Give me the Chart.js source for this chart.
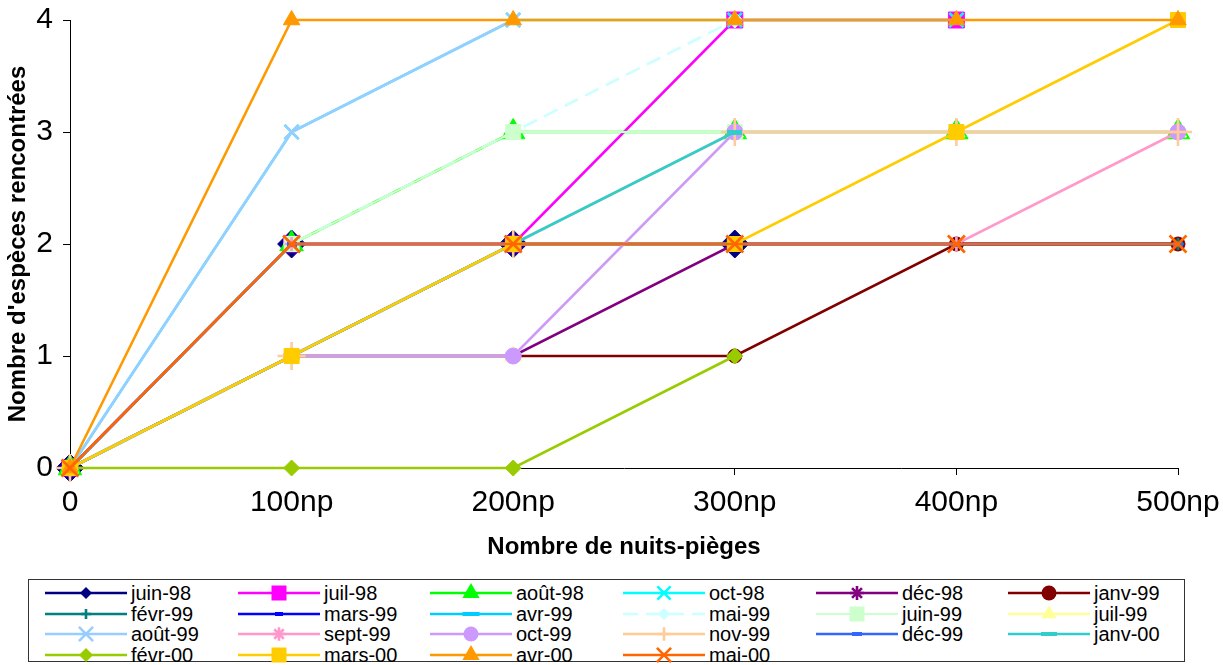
<!DOCTYPE html>
<html>
<head>
<meta charset="utf-8">
<script src="https://cdn.jsdelivr.net/npm/chart.js@4.4.1/dist/chart.umd.min.js"></script>
<style>
  body{margin:0;background:#fff;font-family:"Liberation Sans",Arial,sans-serif;}
  #wrap{position:relative;width:1223px;height:665px;overflow:hidden;}
  #box{position:absolute;left:0;top:0;width:1223px;height:570px;}
  #legend{position:absolute;left:28px;top:579px;width:1155px;height:81px;border:1px solid #333;}
  .it{position:absolute;width:190px;height:20px;}
  .it canvas{position:absolute;left:0;top:0;}
  .it span{position:absolute;left:86px;top:0;font-size:20px;line-height:20px;white-space:nowrap;color:#000;}
</style>
</head>
<body>
<div id="wrap">
  <div id="box"><canvas id="chart"></canvas></div>
  <div id="legend"></div>
</div>
<script>
// categories (x axis) and y ticks
const categories = ['0', '100np', '200np', '300np', '400np', '500np'];
const yTicks = [0, 1, 2, 3, 4];

// number of species found, per sampling month (null = no more sampling)
const juin98  = [0, 2, 2, 2, null, null];
const juil98  = [0, 2, 2, 4, 4, null];
const aout98  = [0, 2, 3, 3, 3, 3];
const oct98   = [0, 3, 4, 4, 4, null];
const dec98   = [0, 1, 1, 2, 2, 2];
const janv99  = [0, 1, 1, 1, 2, 2];
const fevr99  = [0, 1, 2, 2, 2, 2];
const mars99  = [0, 1, 2, 2, 2, 2];
const avr99   = [0, 2, 2, 2, null, null];
const mai99   = [0, 2, 3, 4, null, null];
const juin99  = [0, 2, 3, 3, null, null];
const juil99  = [0, 1, 1, 3, 3, 3];
const aout99  = [0, 3, 4, null, null, null];
const sept99  = [0, 2, 2, 2, 2, 3];
const oct99   = [0, 1, 1, 3, 3, 3];
const nov99   = [0, 1, 2, 3, 3, 3];
const dec99   = [0, 2, 2, 2, 2, 2];
const janv00  = [0, 1, 2, 3, null, null];
const fevr00  = [0, 0, 0, 1, null, null];
const mars00  = [0, 1, 2, 2, 3, 4];
const avr00   = [0, 4, 4, 4, 4, 4];
const mai00   = [0, 2, 2, 2, 2, 2];

const seriesNames = ['juin-98','juil-98','août-98','oct-98','déc-98','janv-99',
  'févr-99','mars-99','avr-99','mai-99','juin-99','juil-99',
  'août-99','sept-99','oct-99','nov-99','déc-99','janv-00',
  'févr-00','mars-00','avr-00','mai-00'];
const seriesValues = [juin98, juil98, aout98, oct98, dec98, janv99,
  fevr99, mars99, avr99, mai99, juin99, juil99,
  aout99, sept99, oct99, nov99, dec99, janv00,
  fevr00, mars00, avr00, mai00];

// styles
const seriesColors = ['#000080','#FF00FF','#00FF00','#00FFFF','#800080','#800000',
  '#008080','#0000FF','#00CCFF','#CCFFFF','#CCFFCC','#FFFF99',
  '#99CCFF','#FF99CC','#CC99FF','#FFCC99','#3366FF','#33CCCC',
  '#99CC00','#FFCC00','#FF9900','#FF6600'];
const markers = ['rectRot','rect','triangle','crossRot','star','circle',
  'cross','dash','dash','rectRot','rect','triangle',
  'crossRot','star','circle','cross','dash','dash',
  'rectRot','rect','triangle','crossRot'];
// chart marker radius (dash: [w,h])
const markerSizes = [14, 11.3, 13.5, 10, 7, 7,
  6, [7,4], [12,5], 8, 10.6, 10,
  10, 7, 8, 14, [10,5], [15,5],
  8, 10.6, 9.5, 12];
// legend marker radius (dash: [w,h])
const legendSizes = [6, 10.6, 10, 9.4, 7, 7.5,
  5, [8,4], [17,4], 6, 10.6, 8.7,
  10, 6.7, 7.5, 6.7, [10,4], [16,4],
  7, 10.6, 10, 10];

function dashCanvas(w, h, color){
  const c = document.createElement('canvas');
  c.width = w; c.height = h;
  const x = c.getContext('2d');
  x.fillStyle = color; x.fillRect(0, 0, w, h);
  return c;
}

const isStroke = s => s === 'cross' || s === 'crossRot' || s === 'star';

const datasets = seriesNames.map((name, i) => {
  const col = seriesColors[i];
  const m = markers[i];
  const sz = markerSizes[i];
  return {
    label: name,
    data: seriesValues[i],
    borderColor: col,
    backgroundColor: col,
    borderWidth: i === 10 ? 2 : 2.6,
    borderDash: i === 9 ? [15, 8] : [],
    pointStyle: m === 'dash' ? dashCanvas(sz[0], sz[1], col) : m,
    pointRadius: m === 'dash' ? 5 : sz,
    pointBackgroundColor: col,
    pointBorderColor: col,
    pointBorderWidth: isStroke(m) ? 2.6 : 1,
    order: seriesNames.length - i,
    clip: false,
    tension: 0,
    spanGaps: false
  };
});

Chart.defaults.font.family = '"Liberation Sans", Arial, sans-serif';
Chart.defaults.color = '#000';

new Chart(document.getElementById('chart'), {
  type: 'line',
  data: { labels: categories, datasets },
  options: {
    responsive: true,
    maintainAspectRatio: false,
    animation: false,
    events: [],
    layout: { padding: { left: 4, top: 20, right: 45, bottom: 8 } },
    plugins: { legend: { display: false }, tooltip: { enabled: false } },
    scales: {
      x: {
        type: 'category',
        offset: false,
        grid: { drawOnChartArea: false, drawTicks: true, tickLength: 7, color: '#000' },
        border: { display: true, color: '#000', width: 1 },
        ticks: { font: { size: 30, lineHeight: 1 }, padding: 13, maxRotation: 0, autoSkip: false },
        title: { display: true, text: 'Nombre de nuits-pièges', font: { size: 24, weight: 'bold' }, padding: 0 },
        afterFit: s => { s.height = 94; s.paddingLeft = 0; s.paddingRight = 0; }
      },
      y: {
        min: 0, max: 4,
        afterBuildTicks: s => { s.ticks = yTicks.map(v => ({ value: v })); },
        grid: { drawOnChartArea: false, drawTicks: true, tickLength: 7, color: '#000' },
        border: { display: true, color: '#000', width: 1 },
        ticks: { font: { size: 30, lineHeight: 1 }, padding: 10 },
        title: { display: true, text: "Nombre d'espèces rencontrées", font: { size: 24, weight: 'bold' }, padding: 0 },
        afterFit: s => { s.width = 66; s.paddingTop = 10; s.paddingBottom = 10; }
      }
    }
  }
});

// legend, drawn as html grid in the same order as excel
function drawMarker(ctx, m, x, y, r, col){
  ctx.fillStyle = col; ctx.strokeStyle = col;
  ctx.beginPath();
  if (m === 'dash') { ctx.fillRect(x - r[0]/2, y - r[1]/2, r[0], r[1]); return; }
  if (m === 'rectRot') { ctx.moveTo(x, y - r); ctx.lineTo(x + r, y); ctx.lineTo(x, y + r); ctx.lineTo(x - r, y); ctx.closePath(); ctx.fill(); }
  else if (m === 'rect') { const h = r * Math.SQRT1_2; ctx.fillRect(x - h, y - h, 2*h, 2*h); }
  else if (m === 'triangle') { ctx.moveTo(x, y - r); ctx.lineTo(x + r*0.866, y + r/2); ctx.lineTo(x - r*0.866, y + r/2); ctx.closePath(); ctx.fill(); }
  else if (m === 'circle') { ctx.arc(x, y, r, 0, Math.PI*2); ctx.fill(); }
  else {
    ctx.lineWidth = 2.6;
    const d = r * Math.SQRT1_2;
    if (m === 'cross' || m === 'star') { ctx.moveTo(x, y - r); ctx.lineTo(x, y + r); ctx.moveTo(x - r, y); ctx.lineTo(x + r, y); }
    if (m === 'crossRot' || m === 'star') { ctx.moveTo(x - d, y - d); ctx.lineTo(x + d, y + d); ctx.moveTo(x + d, y - d); ctx.lineTo(x - d, y + d); }
    ctx.stroke();
  }
}

const legend = document.getElementById('legend');
const colX = [16, 209, 401, 594, 787, 979];
const rowY = [3, 24, 44, 65];
seriesNames.forEach((name, i) => {
  const it = document.createElement('div');
  it.className = 'it';
  it.style.left = colX[i % 6] + 'px';
  it.style.top = rowY[Math.floor(i / 6)] + 'px';
  const cv = document.createElement('canvas');
  cv.width = 84; cv.height = 20;
  const ctx = cv.getContext('2d');
  ctx.strokeStyle = seriesColors[i];
  ctx.lineWidth = i === 10 ? 2 : 2.6;
  ctx.setLineDash(i === 9 ? [15, 8] : []);
  ctx.beginPath(); ctx.moveTo(0, 10); ctx.lineTo(82, 10); ctx.stroke();
  ctx.setLineDash([]);
  drawMarker(ctx, markers[i], 41, 10, legendSizes[i], seriesColors[i]);
  const sp = document.createElement('span');
  sp.textContent = name;
  it.appendChild(cv); it.appendChild(sp);
  legend.appendChild(it);
});
</script>
</body>
</html>
